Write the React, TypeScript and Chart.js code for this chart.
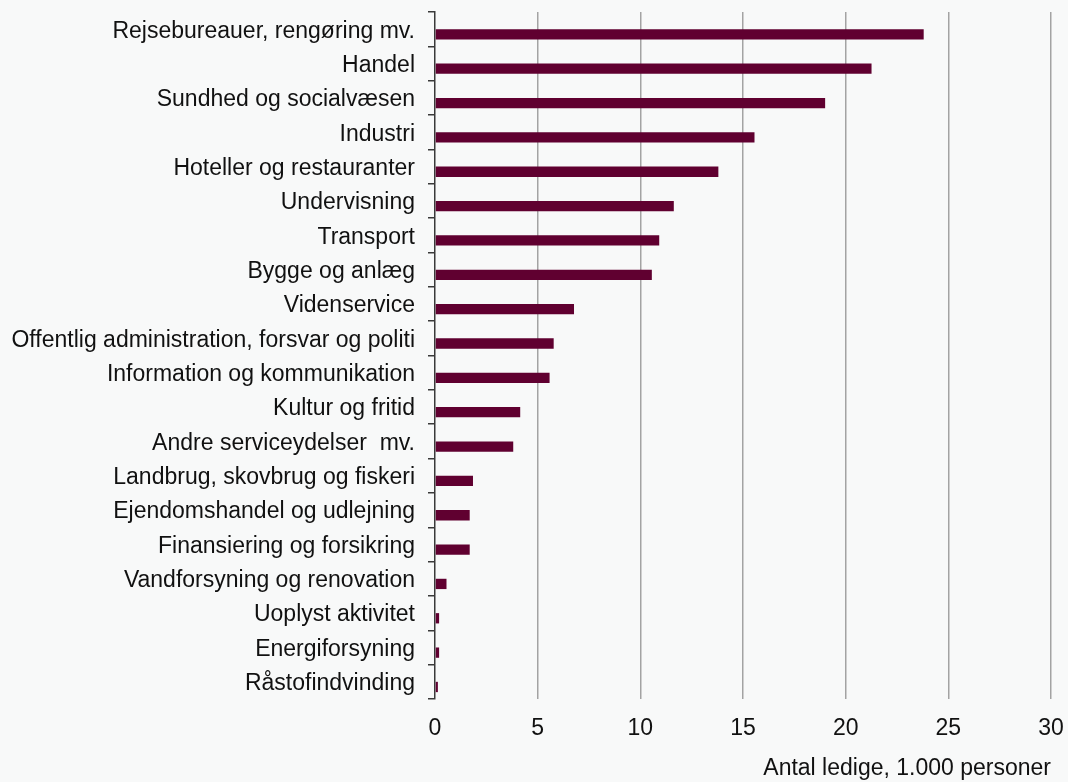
import React, { useEffect, useRef } from "react";
import { Chart, registerables } from "chart.js";

Chart.register(...registerables);

const categories = [
  "Rejsebureauer, rengøring mv.",
  "Handel",
  "Sundhed og socialvæsen",
  "Industri",
  "Hoteller og restauranter",
  "Undervisning",
  "Transport",
  "Bygge og anlæg",
  "Videnservice",
  "Offentlig administration, forsvar og politi",
  "Information og kommunikation",
  "Kultur og fritid",
  "Andre serviceydelser  mv.",
  "Landbrug, skovbrug og fiskeri",
  "Ejendomshandel og udlejning",
  "Finansiering og forsikring",
  "Vandforsyning og renovation",
  "Uoplyst aktivitet",
  "Energiforsyning",
  "Råstofindvinding",
];

const ledige = [
  23.8, 21.26, 19.0, 15.56, 13.8, 11.63, 10.92, 10.56, 6.77, 5.78, 5.58, 4.15,
  3.81, 1.85, 1.69, 1.69, 0.56, 0.2, 0.2, 0.14,
];

const spacer = categories.map(() => 0);

const xTicks = [0, 5, 10, 15, 20, 25, 30];
const xTitle = "Antal ledige, 1.000 personer";

const FONT = "'Liberation Sans', Arial, sans-serif";

export default function App() {
  const ref = useRef<HTMLCanvasElement | null>(null);

  useEffect(() => {
    if (!ref.current) return;
    const chart = new Chart(ref.current, {
      type: "bar",
      data: {
        labels: categories,
        datasets: [
          {
            label: "spacer",
            data: spacer,
            backgroundColor: "rgba(0,0,0,0)",
            borderWidth: 0,
          },
          {
            label: "Antal ledige",
            data: ledige,
            backgroundColor: "#600030",
            borderWidth: 0,
          },
        ],
      },
      options: {
        indexAxis: "y",
        animation: false,
        responsive: true,
        maintainAspectRatio: false,
        layout: { padding: { top: 12, right: 17, bottom: 0, left: 0 } },
        plugins: {
          legend: { display: false },
          tooltip: { enabled: false },
        },
        datasets: {
          bar: { categoryPercentage: 0.6, barPercentage: 1.0 },
        },
        scales: {
          x: {
            type: "linear",
            min: 0,
            max: 30,
            afterBuildTicks: (scale: any) => {
              scale.ticks = xTicks.map((v) => ({ value: v }));
            },
            afterFit: (scale: any) => {
              scale.height = 83;
              scale.paddingLeft = 0;
              scale.paddingRight = 0;
            },
            border: { display: false },
            grid: {
              drawTicks: false,
              lineWidth: 1.5,
              color: (ctx: any) =>
                ctx.tick && ctx.tick.value === 0 ? "rgba(0,0,0,0)" : "#a3a3a3",
            },
            ticks: {
              padding: 16,
              color: "#111111",
              font: { family: FONT, size: 23 },
            },
            title: {
              display: true,
              text: xTitle,
              align: "end",
              color: "#111111",
              font: { family: FONT, size: 23 },
              padding: { top: 0, bottom: 0 },
            },
          },
          y: {
            afterFit: (scale: any) => {
              scale.width = 435;
              scale.paddingTop = 0;
              scale.paddingBottom = 0;
            },
            border: { display: true, color: "#3a3a3a", width: 1.5 },
            grid: {
              drawOnChartArea: false,
              drawTicks: true,
              tickLength: 7,
              color: "#3a3a3a",
              lineWidth: 1.5,
              offset: true,
            },
            ticks: {
              padding: 13,
              labelOffset: 2,
              color: "#111111",
              autoSkip: false,
              font: { family: FONT, size: 23 },
            },
          },
        },
      },
    });
    return () => chart.destroy();
  }, []);

  return (
    <div
      style={{
        position: "absolute",
        left: 0,
        top: 0,
        width: 1068,
        height: 782,
        background: "#f8f9f9",
      }}
    >
      <canvas ref={ref} />
    </div>
  );
}
